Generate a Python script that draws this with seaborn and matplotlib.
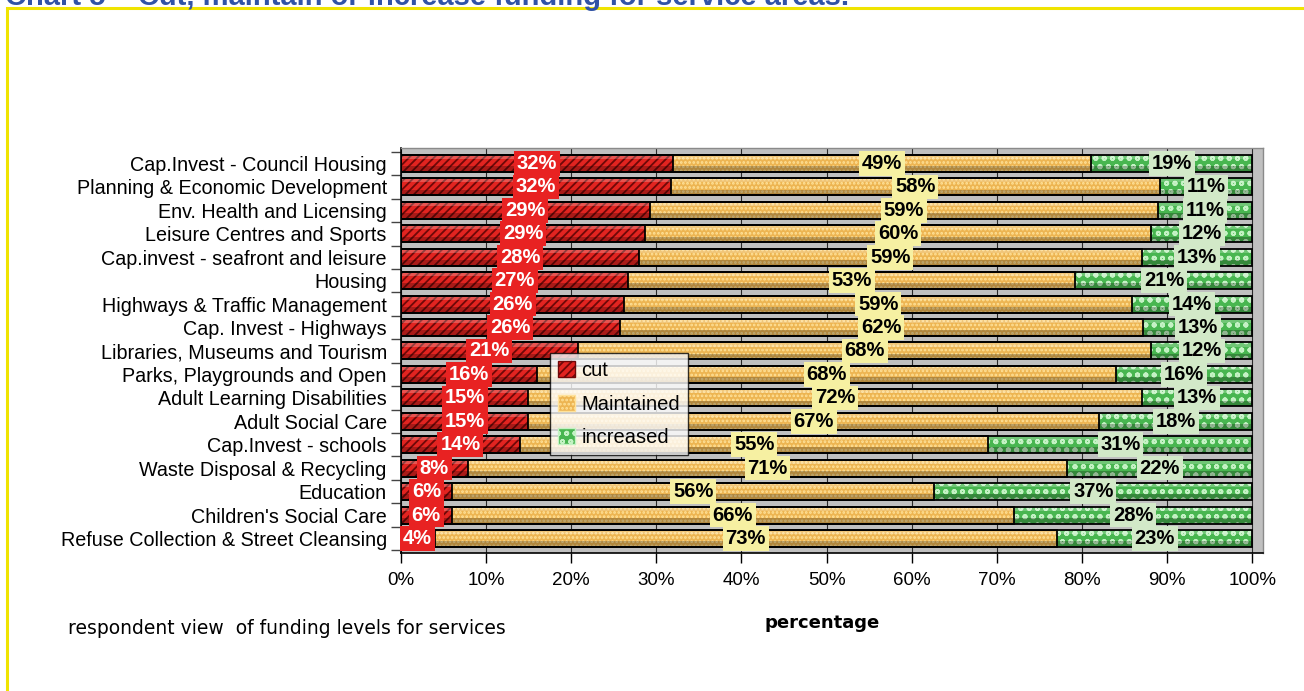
import numpy as np
import pandas as pd
import matplotlib
matplotlib.use("Agg")
import matplotlib.pyplot as plt
from matplotlib.patches import Patch, Rectangle
import seaborn as sns

# ---- data -------------------------------------------------------------
services = [
    "Cap.Invest - Council Housing",
    "Planning & Economic Development",
    "Env. Health and Licensing",
    "Leisure Centres and Sports",
    "Cap.invest - seafront and leisure",
    "Housing",
    "Highways & Traffic Management",
    "Cap. Invest - Highways",
    "Libraries, Museums and Tourism",
    "Parks, Playgrounds and Open",
    "Adult Learning Disabilities",
    "Adult Social Care",
    "Cap.Invest - schools",
    "Waste Disposal & Recycling",
    "Education",
    "Children's Social Care",
    "Refuse Collection & Street Cleansing",
]
cut = [32, 32, 29, 29, 28, 27, 26, 26, 21, 16, 15, 15, 14, 8, 6, 6, 4]
maintained = [49, 58, 59, 60, 59, 53, 59, 62, 68, 68, 72, 67, 55, 71, 56, 66, 73]
increased = [19, 11, 11, 12, 13, 21, 14, 13, 12, 16, 13, 18, 31, 22, 37, 28, 23]
series_names = ["cut", "Maintained", "increased"]
x_ticks = [0, 10, 20, 30, 40, 50, 60, 70, 80, 90, 100]
x_tick_labels = [f"{t}%" for t in x_ticks]

title = "Chart 5 \u2013 Cut, maintain or increase funding for service areas."
note = "respondent view  of funding levels for services"
x_label = "percentage"

# ---- styles -----------------------------------------------------------
face = {"cut": "#E22420", "Maintained": "#EDB552", "increased": "#48B650"}
hatch_col = {"cut": "#6E0808", "Maintained": "#FFE29A", "increased": "#C4F2C4"}
hatch_pat = {"cut": "////", "Maintained": "....", "increased": "oo"}
label_box = {"cut": "#E82222", "Maintained": "#F6F0A2", "increased": "#D2E9C8"}
label_txt = {"cut": "white", "Maintained": "black", "increased": "black"}
BAR_H = 0.725

sns.set_theme(style="white")
plt.rcParams["font.family"] = ["Liberation Sans", "DejaVu Sans"]
plt.rcParams["hatch.linewidth"] = 1.3
for key in ["text.color", "axes.labelcolor", "xtick.color", "ytick.color"]:
    plt.rcParams[key] = "black"

df = pd.DataFrame({"service": services, "cut": cut,
                   "maintained": maintained, "increased": increased})
total = df[["cut", "maintained", "increased"]].sum(axis=1)
df["cut_end"] = df["cut"] / total * 100
df["maint_end"] = (df["cut"] + df["maintained"]) / total * 100
df["inc_end"] = (df["cut"] + df["maintained"] + df["increased"]) / total * 100

fig = plt.figure(figsize=(13.04, 6.91), dpi=100)
ax = fig.add_axes([400.7 / 1304, 1 - 553 / 691, 862 / 1304, 405 / 691])
ax.set_facecolor("#C0C0C0")

# stacked bars: widest (cumulative) first, shorter segments on top
layers = [("increased", "inc_end"), ("Maintained", "maint_end"), ("cut", "cut_end")]
for name, col in layers:
    sns.barplot(data=df, x=col, y="service", order=services, orient="h",
                width=BAR_H, color=face[name], saturation=1, errorbar=None,
                hatch=hatch_pat[name], edgecolor=hatch_col[name], linewidth=0,
                ax=ax, zorder=2)

# cylinder shading: light upper strip, dark lower strip
pos = np.arange(len(services))
ax.barh(pos - BAR_H / 2 + BAR_H * 0.12, df["inc_end"], height=BAR_H * 0.24,
        color="white", alpha=0.22, linewidth=0, zorder=3)
ax.barh(pos + BAR_H / 2 - BAR_H * 0.17, df["inc_end"], height=BAR_H * 0.34,
        color="black", alpha=0.25, linewidth=0, zorder=3)

for name, col in layers:
    sns.barplot(data=df, x=col, y="service", order=services, orient="h",
                width=BAR_H, color="black", fill=False, errorbar=None,
                linewidth=1.3, edgecolor="black", ax=ax, zorder=4)

# value labels centred on each segment
starts = {"cut": np.zeros(len(df)), "Maintained": df["cut_end"].values,
          "increased": df["maint_end"].values}
ends = {"cut": df["cut_end"].values, "Maintained": df["maint_end"].values,
        "increased": df["inc_end"].values}
vals = {"cut": cut, "Maintained": maintained, "increased": increased}
for name in series_names:
    for i, v in enumerate(vals[name]):
        xc = (starts[name][i] + ends[name][i]) / 2
        ax.text(xc, i, f"{v}%", ha="center", va="center", fontsize=14.5,
                fontweight="bold", color=label_txt[name], zorder=6,
                bbox=dict(boxstyle="square,pad=0.14", fc=label_box[name], ec="none"))

# axes
ax.set_xlim(0, 101.2)
ax.set_ylim(len(services) - 1 + 0.62, -0.66)
ax.set_xticks(x_ticks)
ax.set_xticklabels(x_tick_labels, fontsize=13.5)
ax.grid(axis="x", color="#2A2A2A", linewidth=0.8, zorder=1)
ax.grid(axis="y", visible=False)
ax.set_axisbelow(True)
ax.tick_params(axis="x", which="major", direction="out", length=7, width=1,
               color="black", pad=7, bottom=True)
ax.set_yticks(pos)
ax.set_yticklabels(services, fontsize=14.2)
ax.tick_params(axis="y", which="major", length=0, pad=10)
ax.set_yticks(np.arange(-0.5, len(services), 1), minor=True)
ax.tick_params(axis="y", which="minor", direction="out", length=7, width=1,
               color="#444444", left=True)
ax.set_ylabel("")
ax.set_xlabel(x_label, fontsize=13, fontweight="bold", family="DejaVu Sans")
ax.xaxis.set_label_coords((822 - 400.7) / 862, (553 - 614) / 405)
for side in ["left", "bottom"]:
    ax.spines[side].set_color("black")
    ax.spines[side].set_linewidth(1.2)
for side in ["top", "right"]:
    ax.spines[side].set_color("#8A8A8A")
    ax.spines[side].set_linewidth(1.0)

# legend
handles = [Patch(facecolor=face[n], edgecolor=hatch_col[n], hatch=hatch_pat[n],
                 linewidth=1) for n in series_names]
leg = fig.legend(handles, series_names, loc="upper left",
                 bbox_to_anchor=(550 / 1304, 1 - 353 / 691),
                 frameon=True, fancybox=False, fontsize=14.5,
                 handlelength=0.85, handleheight=0.85, handletextpad=0.3,
                 labelspacing=0.72, borderpad=0.4, borderaxespad=0)
leg.get_frame().set_edgecolor("black")
leg.get_frame().set_linewidth(1)
leg.get_frame().set_facecolor("white")
leg.set_zorder(10)

# surrounding text and frame
fig.text(68 / 1304, 1 - 628 / 691, note, fontsize=13.5, va="center", ha="left",
         family="DejaVu Sans")
fig.text(5 / 1304, 1 - 5 / 691, title, fontsize=21, fontweight="bold",
         color="#3153A5", va="baseline", ha="left")
fig.add_artist(Rectangle((7 / 1304, -0.1), 1.2, 1.1 - 8 / 691,
                         transform=fig.transFigure, fill=False,
                         edgecolor="#F0E400", linewidth=2.2))

fig.savefig("out.png", dpi=100)
